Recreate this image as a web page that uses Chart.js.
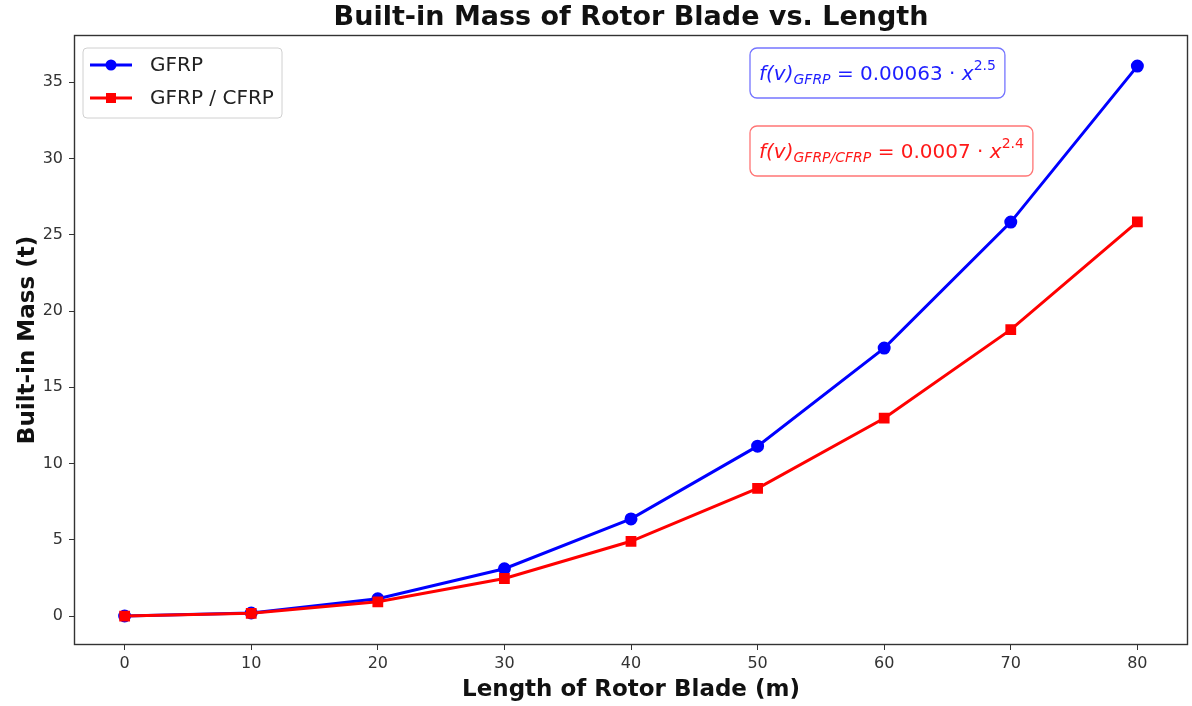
<!DOCTYPE html>
<html>
<head>
<meta charset="utf-8">
<script src="https://cdn.jsdelivr.net/npm/chart.js@4.4.1/dist/chart.umd.min.js"></script>
<style>
  html, body { margin: 0; padding: 0; background: #fff; overflow: hidden; }
  #wrap { width: 1192px; height: 706px; }
  canvas { display: block; }
</style>
</head>
<body>
<div id="wrap"><canvas id="massChart" width="1192" height="706"></canvas></div>
<script>
// blade length (m)
const lengths = [0, 10, 20, 30, 40, 50, 60, 70, 80]
// built-in mass (t)
const massGFRP = [0, 0.2, 1.13, 3.1, 6.37, 11.14, 17.57, 25.83, 36.06]
const massGFRPCFRP = [0, 0.18, 0.93, 2.46, 4.9, 8.37, 12.97, 18.78, 25.85]
const xTicks = [0, 10, 20, 30, 40, 50, 60, 70, 80]
const yTicks = [0, 5, 10, 15, 20, 25, 30, 35]

const titleText = 'Built-in Mass of Rotor Blade vs. Length'
const FONT = "'DejaVu Sans', sans-serif"

function toPoints(xs, ys) {
    return xs.map((x, i) => ({ x: x, y: ys[i] }))
}

// the tick labels never reach the plot edges, so the axes need no extra side padding
function noPadding() {
    return { left: 0, top: 0, right: 0, bottom: 0 }
}

// draw a run of text pieces (italic / sub / sup) one after another
function drawRun(ctx, x, y, parts, color) {
    ctx.fillStyle = color
    ctx.textBaseline = 'alphabetic'
    ctx.textAlign = 'left'
    let cx = x
    parts.forEach(p => {
        ctx.font = (p.italic ? 'oblique ' : '') + p.size + 'px ' + FONT
        ctx.fillText(p.t, cx, y + (p.dy || 0))
        cx += ctx.measureText(p.t).width
    })
    return cx - x
}

function roundBox(ctx, x, y, w, h, r) {
    ctx.beginPath()
    ctx.moveTo(x + r, y)
    ctx.arcTo(x + w, y, x + w, y + h, r)
    ctx.arcTo(x + w, y + h, x, y + h, r)
    ctx.arcTo(x, y + h, x, y, r)
    ctx.arcTo(x, y, x + w, y, r)
    ctx.closePath()
}

const blueEq = [
    { t: 'f(v)', italic: true, size: 20 },
    { t: 'GFRP', italic: true, size: 14, dy: 4 },
    { t: ' = 0.00063 \u00b7 ', size: 20 },
    { t: 'x', italic: true, size: 20 },
    { t: '2.5', size: 14, dy: -10 }
]
const redEq = [
    { t: 'f(v)', italic: true, size: 20 },
    { t: 'GFRP/CFRP', italic: true, size: 14, dy: 4 },
    { t: ' = 0.0007 \u00b7 ', size: 20 },
    { t: 'x', italic: true, size: 20 },
    { t: '2.4', size: 14, dy: -10 }
]

const extras = {
    id: 'extras',
    afterDraw(chart) {
        const ctx = chart.ctx
        const a = chart.chartArea
        ctx.save()

        // axes frame, all four sides
        ctx.strokeStyle = '#333'
        ctx.lineWidth = 1.4
        ctx.strokeRect(a.left + 0.5, a.top + 0.5, a.right - a.left - 1, a.bottom - a.top - 1)

        // title
        ctx.fillStyle = '#111'
        ctx.font = 'bold 27px ' + FONT
        ctx.textAlign = 'center'
        ctx.textBaseline = 'middle'
        ctx.fillText(titleText, (a.left + a.right) / 2, 18)

        // legend, upper left inside the axes
        const lx = a.left + 9, ly = a.top + 13
        ctx.fillStyle = 'rgba(255,255,255,0.85)'
        roundBox(ctx, lx, ly, 199, 70, 4)
        ctx.fill()
        ctx.strokeStyle = '#d0d0d0'
        ctx.lineWidth = 1
        ctx.stroke()
        chart.data.datasets.forEach((ds, i) => {
            const yy = ly + 17 + i * 33
            ctx.strokeStyle = ds.borderColor
            ctx.lineWidth = 3
            ctx.beginPath()
            ctx.moveTo(lx + 7, yy)
            ctx.lineTo(lx + 49, yy)
            ctx.stroke()
            ctx.fillStyle = ds.backgroundColor
            if (ds.pointStyle === 'rect') {
                ctx.fillRect(lx + 23, yy - 5, 10, 10)
            } else {
                ctx.beginPath()
                ctx.arc(lx + 28, yy, 5.5, 0, Math.PI * 2)
                ctx.fill()
            }
            ctx.fillStyle = '#222'
            ctx.font = '20px ' + FONT
            ctx.textAlign = 'left'
            ctx.textBaseline = 'middle'
            ctx.fillText(ds.label, lx + 67, yy + 1)
        })

        // fitted equations
        const ex = a.left + 676
        ;[[blueEq, 'rgb(30,30,255)', 'rgba(70,70,255,0.75)', a.top + 13],
          [redEq, 'rgb(255,25,25)', 'rgba(255,70,70,0.75)', a.top + 91]].forEach(([eq, col, edge, top]) => {
            ctx.save()
            ctx.globalAlpha = 0
            const w = drawRun(ctx, 0, 0, eq, col)
            ctx.restore()
            ctx.fillStyle = 'rgba(255,255,255,0.9)'
            roundBox(ctx, ex, top, w + 18, 50, 7)
            ctx.fill()
            ctx.strokeStyle = edge
            ctx.lineWidth = 1.3
            ctx.stroke()
            drawRun(ctx, ex + 9, top + 32, eq, col)
        })

        ctx.restore()
    }
}

const canvas = document.getElementById('massChart')
const ctx = canvas.getContext('2d')

new Chart(ctx, {
    type: 'line',
    data: {
        datasets: [{
            label: 'GFRP',
            data: toPoints(lengths, massGFRP),
            borderColor: 'rgb(0,0,255)',
            backgroundColor: 'rgb(0,0,255)',
            borderWidth: 3,
            pointStyle: 'circle',
            pointRadius: 5,
            pointHoverRadius: 5,
            order: 1
        }, {
            label: 'GFRP / CFRP',
            data: toPoints(lengths, massGFRPCFRP),
            borderColor: 'rgb(255,0,0)',
            backgroundColor: 'rgb(255,0,0)',
            borderWidth: 3,
            pointStyle: 'rect',
            pointRadius: 5.5,
            pointHoverRadius: 5.5,
            order: 0
        }]
    },
    options: {
        responsive: false,
        animation: false,
        layout: { autoPadding: false, padding: { top: 35, right: 4, left: 0, bottom: 0 } },
        plugins: {
            legend: { display: false },
            title: { display: false },
            tooltip: { enabled: false }
        },
        scales: {
            x: {
                type: 'linear',
                min: -4,
                max: 84,
                afterBuildTicks: axis => { axis.ticks = xTicks.map(v => ({ value: v })) },
                afterFit: axis => {
                    axis.height = 61
                    axis.getPadding = noPadding
                },
                grid: { display: true, drawOnChartArea: false, drawTicks: true, tickLength: 5, color: '#333' },
                border: { display: false },
                ticks: { color: '#333', font: { family: FONT, size: 16 }, padding: 4, maxRotation: 0 },
                title: {
                    display: true,
                    text: 'Length of Rotor Blade (m)',
                    color: '#111',
                    font: { family: FONT, size: 23, weight: 'bold' },
                    padding: { top: 0, bottom: 2 }
                }
            },
            y: {
                type: 'linear',
                min: -1.9,
                max: 38.1,
                afterBuildTicks: axis => { axis.ticks = yTicks.map(v => ({ value: v })) },
                afterFit: axis => {
                    axis.width = 74
                    axis.getPadding = noPadding
                },
                grid: { display: true, drawOnChartArea: false, drawTicks: true, tickLength: 5, color: '#333' },
                border: { display: false },
                ticks: { color: '#333', font: { family: FONT, size: 16 }, padding: 6 },
                title: {
                    display: true,
                    text: 'Built-in Mass (t)',
                    color: '#111',
                    font: { family: FONT, size: 23, weight: 'bold' },
                    padding: { top: 14, bottom: 4 }
                }
            }
        }
    },
    plugins: [extras]
})
</script>
</body>
</html>
